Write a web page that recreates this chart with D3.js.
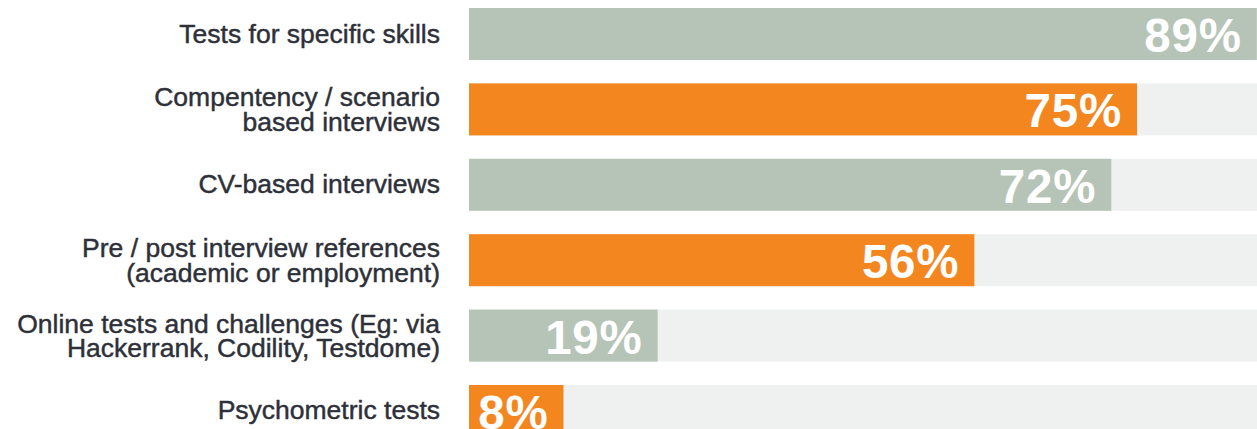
<!DOCTYPE html>
<html>
<head>
<meta charset="utf-8">
<script src="https://cdn.jsdelivr.net/npm/d3@7"></script>
<style>
  html, body { margin: 0; padding: 0; background: #ffffff; }
  svg { display: block; }
</style>
</head>
<body>
<svg id="chart"></svg>
<script>
// Share of respondents using each assessment method
const categories = [
  "Tests for specific skills",
  "Compentency / scenario\nbased interviews",
  "CV-based interviews",
  "Pre / post interview references\n(academic or employment)",
  "Online tests and challenges (Eg: via\nHackerrank, Codility, Testdome)",
  "Psychometric tests"
];
const values = [89, 75, 72, 56, 19, 8];
const valueLabels = ["89%", "75%", "72%", "56%", "19%", "8%"];
const barColors = ["#b6c4b7", "#f48620"];

const width = 1257, height = 429;
const plotLeft = 469;      // where bars and tracks begin
const stub = 26;           // fixed lead-in before the value scale
const labelRight = 440;

const svg = d3.select("#chart").attr("width", width).attr("height", height);

const x = d3.scaleLinear().domain([0, 100]).range([plotLeft + stub, plotLeft + stub + 856]);
const y = d3.scaleBand().domain(d3.range(categories.length)).range([8, 437]).paddingInner(0.31).paddingOuter(0);

const rows = svg.selectAll("g.row")
  .data(categories.map((c, i) => ({ c, v: values[i], t: valueLabels[i], i })))
  .join("g").attr("class", "row");

// background track
rows.append("rect")
  .attr("x", plotLeft)
  .attr("y", d => y(d.i))
  .attr("width", width - plotLeft)
  .attr("height", y.bandwidth())
  .attr("fill", "#eff1f0");

// value bar
rows.append("rect")
  .attr("x", plotLeft)
  .attr("y", d => y(d.i))
  .attr("width", d => Math.min(x(d.v), width) - plotLeft)
  .attr("height", y.bandwidth())
  .attr("fill", d => barColors[d.i % 2]);

// value label inside the bar
rows.append("text")
  .attr("x", d => Math.min(x(d.v), width) - 15)
  .attr("y", d => y(d.i) + 44)
  .attr("text-anchor", "end")
  .attr("fill", "#ffffff")
  .attr("font-family", "'Liberation Sans', Arial, sans-serif")
  .attr("font-weight", "bold")
  .attr("font-size", 47.5)
  .attr("letter-spacing", 0.8)
  .text(d => d.t);

// category label, one or two lines, right aligned
const lineH = 24.5;
rows.append("text")
  .attr("text-anchor", "end")
  .attr("fill", "#2e3039")
  .attr("stroke", "#2e3039")
  .attr("stroke-width", 0.45)
  .attr("font-family", "'Liberation Sans', Arial, sans-serif")
  .attr("font-size", 26.5)
  .each(function (d) {
    const lines = d.c.split("\n");
    const cy = y(d.i) + y.bandwidth() / 2;
    const first = cy + 8.5 - (lines.length - 1) * 11.5;
    d3.select(this).selectAll("tspan").data(lines).join("tspan")
      .attr("x", labelRight)
      .attr("y", (l, k) => first + k * lineH)
      .text(l => l);
  });
</script>
</body>
</html>
